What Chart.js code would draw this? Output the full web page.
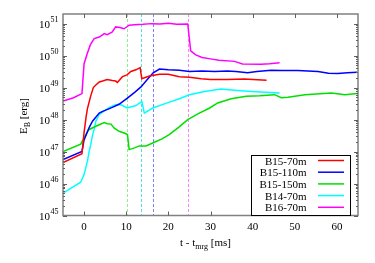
<!DOCTYPE html>
<html>
<head>
<meta charset="utf-8">
<script src="https://cdn.jsdelivr.net/npm/chart.js@4/dist/chart.umd.min.js"></script>
<style>
  html, body { margin: 0; padding: 0; background: #fff; }
  #wrap { width: 375px; height: 263px; }
</style>
</head>
<body>
<div id="wrap"><canvas id="ebChart"></canvas></div>
<script>
// time after merger [ms] and magnetic energy [erg] for each run
const tB1570 = [-5, -0.5, 0, 0.5, 0.8, 1.6, 2.2, 2.8, 3.6, 4.4, 5.5, 6.7, 7.5, 7.9, 9.1, 10.2, 11.1, 12.3, 13.3, 13.7, 15.5, 17.9, 20, 22.6, 25, 27.8, 30, 34, 38, 43.3];
const eB1570 = [4.5e46, 8.5e46, 4e47, 1.26e48, 2.2e48, 5.6e48, 1e49, 1.2e49, 1.5e49, 1.6e49, 1.8e49, 1.66e49, 1.6e49, 1.45e49, 2.2e49, 2.5e49, 3.2e49, 3.6e49, 4.2e49, 1.9e49, 2.3e49, 2.6e49, 2.6e49, 2.2e49, 2.1e49, 1.9e49, 1.8e49, 1.8e49, 1.86e49, 1.7e49];

const tB15110 = [-5, -0.5, 0, 1.2, 2, 3.6, 4.4, 6, 6.7, 8.3, 10.2, 12, 13.5, 15, 16.4, 17.9, 20, 22.6, 25, 28, 31, 34, 36, 38.8, 41, 44.4, 47, 50.7, 55.5, 58, 60.2, 62.5, 64.8];
const eB15110 = [5.6e46, 1.0e47, 2.3e47, 5.6e47, 8.9e47, 1.6e48, 1.8e48, 2.2e48, 2.4e48, 3.0e48, 4.6e48, 7.1e48, 1.05e49, 1.8e49, 2.9e49, 3.8e49, 3.6e49, 3.5e49, 3.2e49, 3.3e49, 3.2e49, 3.3e49, 3.2e49, 2.9e49, 3.2e49, 3.5e49, 3.4e49, 3.4e49, 3.2e49, 2.8e49, 2.75e49, 2.9e49, 3.0e49];

const tB15150 = [-5, -0.8, 0, 0.8, 1.2, 2.8, 3.6, 4.8, 5.5, 6.4, 7.1, 8.3, 9.5, 10.3, 10.7, 12, 13.1, 14.7, 16.7, 18.5, 20.2, 22.5, 24.6, 27, 29.8, 31.7, 34.9, 38.5, 41.7, 45.2, 46.8, 48.4, 52.4, 58.7, 61.9, 64.8];
const eB15150 = [1e47, 1.7e47, 2.7e47, 4.2e47, 4.9e47, 6.2e47, 6.9e47, 8.1e47, 7.4e47, 7.2e47, 5.5e47, 4.3e47, 3.8e47, 3.4e47, 1.15e47, 1.3e47, 1.5e47, 1.5e47, 1.95e47, 2.5e47, 3.4e47, 5.8e47, 1e48, 1.5e48, 2.3e48, 3.3e48, 4.5e48, 5.4e48, 5.6e48, 6.0e48, 4.8e48, 5.0e48, 6.0e48, 6.8e48, 6.0e48, 6.5e48];

const tB1470 = [-5, -0.8, 0, 0.8, 1.2, 1.6, 2, 2.4, 2.8, 3.6, 4.4, 6, 7.5, 8.3, 9, 10.2, 12.3, 13.7, 14.3, 16.3, 19.4, 22.6, 25, 28.6, 32.5, 35.7, 39.7, 46.4];
const eB1470 = [5e45, 1.1e46, 1.9e46, 5e46, 1e47, 1.7e47, 3.2e47, 5e47, 8.9e47, 1.45e48, 1.7e48, 2.4e48, 2.9e48, 3.0e48, 2.8e48, 2.3e48, 2.75e48, 3.7e48, 1.6e48, 2.3e48, 3.2e48, 4.5e48, 6.0e48, 7.6e48, 9.1e48, 8.3e48, 7.6e48, 6.8e48];

const tB1670 = [-5, -2.5, -0.5, 0, 0.8, 1.5, 2.4, 3.6, 4.8, 5.5, 6.7, 7.5, 8.5, 9.5, 10.7, 12, 14, 16, 18, 20, 22, 24.6, 25.3, 26.5, 28, 30, 32, 35.7, 37.6, 42, 44, 46.4];
const eB1670 = [3.8e48, 4.8e48, 6.5e48, 5.6e49, 1.2e50, 2.2e50, 3.4e50, 3.8e50, 4.9e50, 4.5e50, 5.5e50, 7.9e50, 7.6e50, 6.9e50, 8.9e50, 9.3e50, 9.5e50, 1.0e51, 9.8e50, 1.02e51, 9.5e50, 9.8e50, 1.4e50, 1.05e50, 8.7e49, 7.9e49, 7.1e49, 6.6e49, 5.5e49, 5.4e49, 5.6e49, 6.0e49];

const runNames = ['B15-70m', 'B15-110m', 'B15-150m', 'B14-70m', 'B16-70m'];
const runColors = ['#ff0000', '#0000ff', '#00e000', '#00ffff', '#ff00ff'];

// dashed markers in time
const markT = [10.1, 13.4, 13.6, 16.4, 24.7];
const markColors = ['#90ee90', '#ff9090', '#50e0e0', '#8080ff', '#ff80ff'];

const xTicks = [0, 10, 20, 30, 40, 50, 60];
const yExps = [45, 46, 47, 48, 49, 50, 51];

const serif = '"Liberation Serif", "DejaVu Serif", serif';

function pts(ts, es) {
  return ts.map((t, i) => ({ x: t, y: es[i] }));
}

const allT = [tB1570, tB15110, tB15150, tB1470, tB1670];
const allE = [eB1570, eB15110, eB15150, eB1470, eB1670];

const datasets = runNames.map((name, i) => ({
  label: name,
  data: pts(allT[i], allE[i]),
  borderColor: runColors[i],
  borderWidth: 1.5,
  pointRadius: 0,
  tension: 0,
  fill: false
}));

// frame, ticks, labels, markers and legend in the gnuplot look
const gnuplotLook = {
  id: 'gnuplotLook',
  beforeDatasetsDraw(chart) {
    const { ctx, chartArea: a, scales: { x } } = chart;
    ctx.save();
    ctx.lineWidth = 1;
    ctx.setLineDash([3, 2]);
    markT.forEach((t, i) => {
      const px = Math.round(x.getPixelForValue(t)) + 0.5;
      ctx.strokeStyle = markColors[i];
      ctx.beginPath();
      ctx.moveTo(px, a.top);
      ctx.lineTo(px, a.bottom);
      ctx.stroke();
    });
    ctx.restore();
  },
  afterDraw(chart) {
    const { ctx, chartArea: a, scales: { x, y } } = chart;
    ctx.save();

    // frame
    ctx.strokeStyle = '#808080';
    ctx.lineWidth = 1.5;
    ctx.strokeRect(a.left, a.top, a.right - a.left, a.bottom - a.top);

    // ticks
    ctx.lineWidth = 1;
    ctx.strokeStyle = '#606060';
    ctx.beginPath();
    xTicks.forEach(v => {
      const px = Math.round(x.getPixelForValue(v)) + 0.5;
      ctx.moveTo(px, a.bottom); ctx.lineTo(px, a.bottom - 4);
      ctx.moveTo(px, a.top); ctx.lineTo(px, a.top + 4);
    });
    yExps.forEach(e => {
      const py = Math.round(y.getPixelForValue(Math.pow(10, e))) + 0.5;
      ctx.moveTo(a.left, py); ctx.lineTo(a.left + 4, py);
      ctx.moveTo(a.right, py); ctx.lineTo(a.right - 4, py);
      if (e < 51) {
        for (let m = 2; m <= 9; m++) {
          const pm = Math.round(y.getPixelForValue(m * Math.pow(10, e))) + 0.5;
          ctx.moveTo(a.left, pm); ctx.lineTo(a.left + 2, pm);
          ctx.moveTo(a.right, pm); ctx.lineTo(a.right - 2, pm);
        }
      }
    });
    ctx.stroke();

    // tick labels
    ctx.fillStyle = '#000';
    ctx.font = '11px ' + serif;
    ctx.textAlign = 'center';
    ctx.textBaseline = 'alphabetic';
    xTicks.forEach(v => {
      ctx.fillText(String(v), x.getPixelForValue(v), a.bottom + 14);
    });
    yExps.forEach(e => {
      const py = y.getPixelForValue(Math.pow(10, e));
      ctx.font = '11px ' + serif;
      ctx.textAlign = 'right';
      ctx.fillText('10', 50, py + 4);
      ctx.font = '8px ' + serif;
      ctx.textAlign = 'left';
      ctx.fillText(String(e), 50.5, py - 2);
    });

    // x axis title: t - t_mrg [ms]
    let cx = 180;
    const by = 246;
    ctx.font = '11px ' + serif;
    ctx.textAlign = 'left';
    ctx.fillText('t - t', cx, by);
    cx += ctx.measureText('t - t').width;
    ctx.font = '8px ' + serif;
    ctx.fillText('mrg', cx, by + 3);
    cx += ctx.measureText('mrg').width;
    ctx.font = '11px ' + serif;
    ctx.fillText(' [ms]', cx, by);

    // y axis title: E_B [erg]
    ctx.save();
    ctx.translate(27, 134);
    ctx.rotate(-Math.PI / 2);
    let ly = 0;
    ctx.font = '11px ' + serif;
    ctx.fillText('E', ly, 0);
    ly += ctx.measureText('E').width;
    ctx.font = '8px ' + serif;
    ctx.fillText('B', ly, 3);
    ly += ctx.measureText('B').width;
    ctx.font = '11px ' + serif;
    ctx.fillText(' [erg]', ly, 0);
    ctx.restore();

    // legend box
    const lx0 = 251.5, lx1 = 350.5, ly0 = 155.5;
    ctx.fillStyle = '#fff';
    ctx.fillRect(lx0, ly0, lx1 - lx0, a.bottom - ly0);
    ctx.strokeStyle = '#000';
    ctx.lineWidth = 1;
    ctx.strokeRect(lx0, ly0, lx1 - lx0, a.bottom - ly0);
    ctx.font = '11px ' + serif;
    ctx.textAlign = 'right';
    runNames.forEach((name, i) => {
      const ry = 160.5 + i * 11.7;
      ctx.fillStyle = '#000';
      ctx.fillText(name, 306.5, ry + 4);
      ctx.strokeStyle = runColors[i];
      ctx.lineWidth = 1.5;
      ctx.beginPath();
      ctx.moveTo(318, ry);
      ctx.lineTo(344, ry);
      ctx.stroke();
    });

    ctx.restore();
  }
};

const ctx = document.getElementById('ebChart').getContext('2d');
const ebChart = new Chart(ctx, {
  type: 'line',
  data: { datasets: datasets },
  options: {
    responsive: true,
    maintainAspectRatio: false,
    animation: false,
    layout: { padding: { top: 14, right: 17, left: 0, bottom: 0 } },
    plugins: {
      legend: { display: false },
      tooltip: { enabled: false }
    },
    scales: {
      x: {
        type: 'linear',
        min: -5,
        max: 65,
        grid: { display: false },
        border: { display: false },
        ticks: { display: false },
        afterFit: s => { s.height = 47.5; }
      },
      y: {
        type: 'logarithmic',
        min: 1e45,
        max: 2e51,
        grid: { display: false },
        border: { display: false },
        ticks: { display: false },
        afterFit: s => { s.width = 63; }
      }
    }
  },
  plugins: [gnuplotLook]
});
</script>
</body>
</html>
